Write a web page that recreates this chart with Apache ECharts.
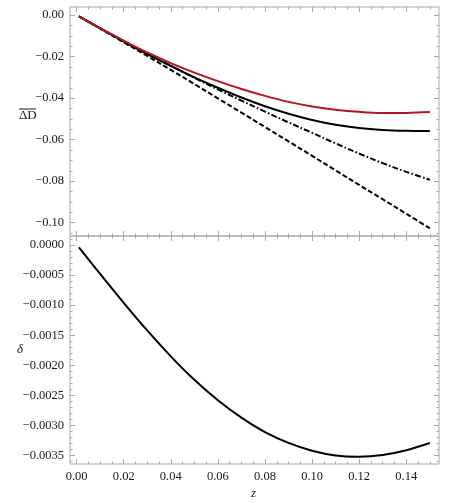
<!DOCTYPE html>
<html><head><meta charset="utf-8">
<script src="https://cdn.jsdelivr.net/npm/echarts@6/dist/echarts.min.js"></script>
<style>html,body{margin:0;padding:0;background:#fff}#c{width:459px;height:503px}</style>
</head><body><div id="c"></div>
<script>
// ---- data ----
const zValues      = [0.001, 0.01, 0.02, 0.03, 0.04, 0.05, 0.06, 0.07, 0.08, 0.09, 0.10, 0.11, 0.12, 0.13, 0.14, 0.15];
const redCurve     = [-0.0006, -0.0063, -0.0123, -0.0180, -0.0231, -0.0277, -0.0318, -0.0356, -0.0389, -0.0418, -0.0440, -0.0456, -0.0466, -0.0471, -0.0471, -0.0467];
const solidCurve   = [-0.0006, -0.0064, -0.0127, -0.0188, -0.0245, -0.0300, -0.0350, -0.0397, -0.0439, -0.0475, -0.0505, -0.0528, -0.0544, -0.0553, -0.0557, -0.0558];
const dotDashCurve = [-0.0006, -0.0063, -0.0125, -0.0185, -0.0244, -0.0302, -0.0358, -0.0412, -0.0465, -0.0517, -0.0567, -0.0618, -0.0667, -0.0713, -0.0755, -0.0793];
const dashedCurve  = [-0.0006, -0.0065, -0.0131, -0.0197, -0.0264, -0.0332, -0.0401, -0.0470, -0.0539, -0.0608, -0.0678, -0.0748, -0.0818, -0.0887, -0.0957, -0.1027];
const deltaCurve   = [-0.00004, -0.00048, -0.00096, -0.00142, -0.00185, -0.00224, -0.00258, -0.00287, -0.00311, -0.00329, -0.00342, -0.00350, -0.00352, -0.00349, -0.00341, -0.00329];

const xTickLabels       = [0, 0.02, 0.04, 0.06, 0.08, 0.10, 0.12, 0.14];
const topYTickLabels    = [0, -0.02, -0.04, -0.06, -0.08, -0.10];
const bottomYTickLabels = [0, -0.0005, -0.0010, -0.0015, -0.0020, -0.0025, -0.0030, -0.0035];

// ---- minor tick positions ----
const xMinor = []; for (let k = 0; k <= 30; k++) if (k % 4) xMinor.push(k * 0.005);
const topYMinor = []; for (let k = 0; k <= 21; k++) if (k % 4) topYMinor.push(-k * 0.005);
const botYMinor = []; for (let k = -1; k <= 36; k++) if (k % 5) botYMinor.push(-k * 0.0001);

const X_MIN = -0.0028, X_MAX = 0.1539;
const TOP_MIN = -0.1064, TOP_MAX = 0.0039;
const BOT_MIN = -0.00364, BOT_MAX = 0.00015;

const FRAME = '#a8a8a8';
const FONT = '"Liberation Serif", "DejaVu Serif", serif';
const TXT = '#1a1a1a';

function fmt(v, d) {
  if (v < -1e-12) return '\u2212' + (-v).toFixed(d);
  return Math.abs(v).toFixed(d);
}
function axis(gridIndex, position, min, max, ticks, len, labelDec) {
  const a = {
    type: 'value', gridIndex, position, min, max,
    axisLine: { show: false, onZero: false },
    splitLine: { show: false },
    axisTick: { show: true, inside: true, length: len, customValues: ticks, lineStyle: { color: FRAME, width: 1 } },
    axisLabel: { show: false }
  };
  if (labelDec != null) {
    a.axisLabel = { show: true, customValues: ticks, formatter: v => fmt(v, labelDec),
      fontFamily: FONT, fontSize: 12.5, color: TXT, margin: 6 };
  }
  return a;
}
const topRect = { left: 70, top: 7, width: 369, height: 229 };
const botRect = { left: 70, top: 236, width: 369, height: 228 };

const grids = [
  Object.assign({ show: true, borderColor: FRAME, borderWidth: 1, backgroundColor: 'transparent' }, topRect),
  Object.assign({ show: true, borderColor: FRAME, borderWidth: 1, backgroundColor: 'transparent' }, botRect),
  Object.assign({ show: false }, topRect),
  Object.assign({ show: false }, botRect)
];
const xAxes = [
  axis(0, 'bottom', X_MIN, X_MAX, xTickLabels, 5, null),   // 0 top panel data
  axis(0, 'top',    X_MIN, X_MAX, xTickLabels, 5, null),   // 1
  axis(1, 'bottom', X_MIN, X_MAX, xTickLabels, 5, 2),      // 2 bottom panel data
  axis(1, 'top',    X_MIN, X_MAX, xTickLabels, 5, null),   // 3
  axis(2, 'bottom', X_MIN, X_MAX, xMinor, 2.5, null),
  axis(2, 'top',    X_MIN, X_MAX, xMinor, 2.5, null),
  axis(3, 'bottom', X_MIN, X_MAX, xMinor, 2.5, null),
  axis(3, 'top',    X_MIN, X_MAX, xMinor, 2.5, null)
];
const yAxes = [
  axis(0, 'left',  TOP_MIN, TOP_MAX, topYTickLabels, 5, 2),    // 0
  axis(0, 'right', TOP_MIN, TOP_MAX, topYTickLabels, 5, null), // 1
  axis(1, 'left',  BOT_MIN, BOT_MAX, bottomYTickLabels, 5, 4), // 2
  axis(1, 'right', BOT_MIN, BOT_MAX, bottomYTickLabels, 5, null), // 3
  axis(2, 'left',  TOP_MIN, TOP_MAX, topYMinor, 2.5, null),
  axis(2, 'right', TOP_MIN, TOP_MAX, topYMinor, 2.5, null),
  axis(3, 'left',  BOT_MIN, BOT_MAX, botYMinor, 2.5, null),
  axis(3, 'right', BOT_MIN, BOT_MAX, botYMinor, 2.5, null)
];

function pairs(arr) { return zValues.map((z, i) => [z, arr[i]]); }
function line(name, arr, xi, yi, color, type) {
  return { name, type: 'line', xAxisIndex: xi, yAxisIndex: yi, data: pairs(arr),
    showSymbol: false, symbol: 'none', smooth: 0.35, silent: true,
    lineStyle: { color, width: 2, type: type || 'solid', cap: 'butt' } };
}

const chart = echarts.init(document.getElementById('c'), null, { renderer: 'canvas' });
chart.setOption({
  animation: false,
  backgroundColor: '#fff',
  grid: grids,
  xAxis: xAxes,
  yAxis: yAxes,
  series: [
    line('dashed', dashedCurve, 0, 0, '#000', [5, 2.5]),
    line('dotdash', dotDashCurve, 0, 0, '#000', [6, 2.2, 1.6, 2.2]),
    line('solid', solidCurve, 0, 0, '#000'),
    line('red', redCurve, 0, 0, '#b3161b'),
    line('delta', deltaCurve, 2, 2, '#000')
  ],
  graphic: [
    { type: 'text', left: 19, top: 109, style: { text: '\u0394D', font: '13px ' + FONT, fill: TXT } },
    { type: 'line', shape: { x1: 19, y1: 109, x2: 36, y2: 109 }, style: { stroke: TXT, lineWidth: 1 } },
    { type: 'text', left: 17, top: 343, style: { text: '\u03b4', font: 'italic 13px ' + FONT, fill: TXT } },
    { type: 'text', left: 251, top: 487, style: { text: 'z', font: 'italic 13px ' + FONT, fill: TXT } }
  ]
});
</script>
</body></html>
